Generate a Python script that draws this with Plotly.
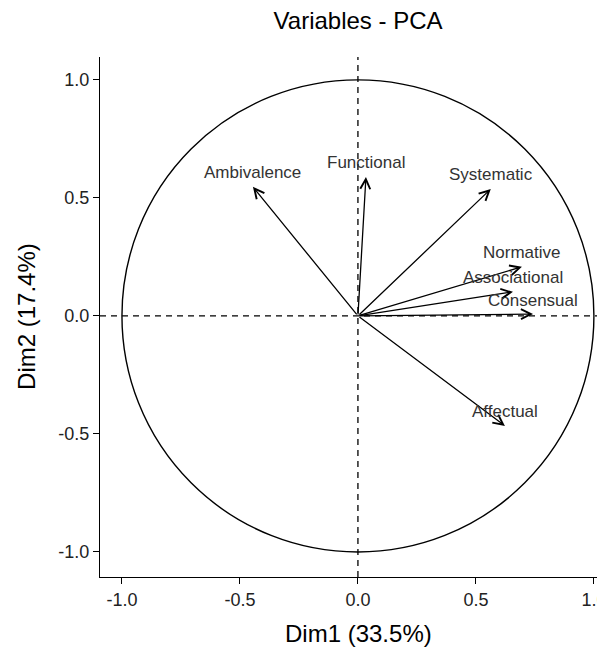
import plotly.graph_objects as go

variables = ["Ambivalence", "Functional", "Systematic", "Normative", "Associational", "Consensual", "Affectual"]
dim1 = [-0.445, 0.034, 0.563, 0.695, 0.657, 0.742, 0.623]
dim2 = [0.547, 0.589, 0.538, 0.208, 0.102, 0.008, -0.466]
tick_vals = [-1.0, -0.5, 0.0, 0.5, 1.0]
tick_text = ["-1.0", "-0.5", "0.0", "0.5", "1.0"]

xr = [-1.093, 1.047]
yr = [-1.106, 1.097]
FONT = "Liberation Sans, Arial, Helvetica, sans-serif"

# the page body adds an 8px margin, so the figure is sized/offset to compensate
W, H = 597, 640

fig = go.Figure()
fig.add_trace(go.Scatter(x=[None], y=[None], showlegend=False, hoverinfo="skip"))

shapes = [
    dict(type="circle", xref="x", yref="y", x0=-1, y0=-1, x1=1, y1=1,
         line=dict(color="black", width=1.4)),
    dict(type="line", xref="x", yref="y", x0=0, x1=0, y0=yr[0], y1=yr[1],
         line=dict(color="black", width=1.3, dash="6px,5px")),
    dict(type="line", xref="x", yref="y", x0=xr[0], x1=xr[1], y0=0, y1=0,
         line=dict(color="black", width=1.3, dash="6px,5px")),
]

annotations = []
for name, x, y in zip(variables, dim1, dim2):
    annotations.append(dict(x=x, y=y, ax=0, ay=0, xref="x", yref="y", axref="x", ayref="y",
                            text="", showarrow=True, arrowhead=5, arrowsize=1.5,
                            arrowwidth=1.3, arrowcolor="black", standoff=0, startstandoff=0))
    annotations.append(dict(x=x, y=y, xref="x", yref="y", text=name, showarrow=False,
                            yshift=14, font=dict(size=17, color="#333333", family=FONT)))

annotations.append(dict(text="Dim1 (33.5%)", xref="paper", yref="paper", x=0.511, y=-0.1096,
                        showarrow=False, xanchor="center", yanchor="middle",
                        font=dict(size=24, color="black", family=FONT)))
annotations.append(dict(text="Dim2 (17.4%)", xref="paper", yref="paper", x=-0.1446, y=0.502,
                        showarrow=False, xanchor="center", yanchor="middle", textangle=-90,
                        font=dict(size=24, color="black", family=FONT)))

fig.update_layout(
    width=W, height=H,
    margin=dict(l=92, r=0, t=49, b=71, autoexpand=False),
    paper_bgcolor="white", plot_bgcolor="white",
    font=dict(family=FONT, color="black"),
    title=dict(text="Variables - PCA", xref="paper", x=0.511, xanchor="center",
               yref="container", y=1 - 13 / H, yanchor="middle",
               font=dict(size=24, color="black")),
    shapes=shapes,
    annotations=annotations,
    showlegend=False,
)
common = dict(showgrid=False, zeroline=False, showline=True, linecolor="black",
              linewidth=1.3, ticks="outside", ticklen=6, tickwidth=1.3, tickcolor="black",
              tickvals=tick_vals, ticktext=tick_text, automargin=False,
              ticklabeloverflow="allow",
              tickfont=dict(size=18, color="#222222"))
fig.update_xaxes(range=xr, **common)
fig.update_yaxes(range=yr, **common)

fig.write_html("out.html")
